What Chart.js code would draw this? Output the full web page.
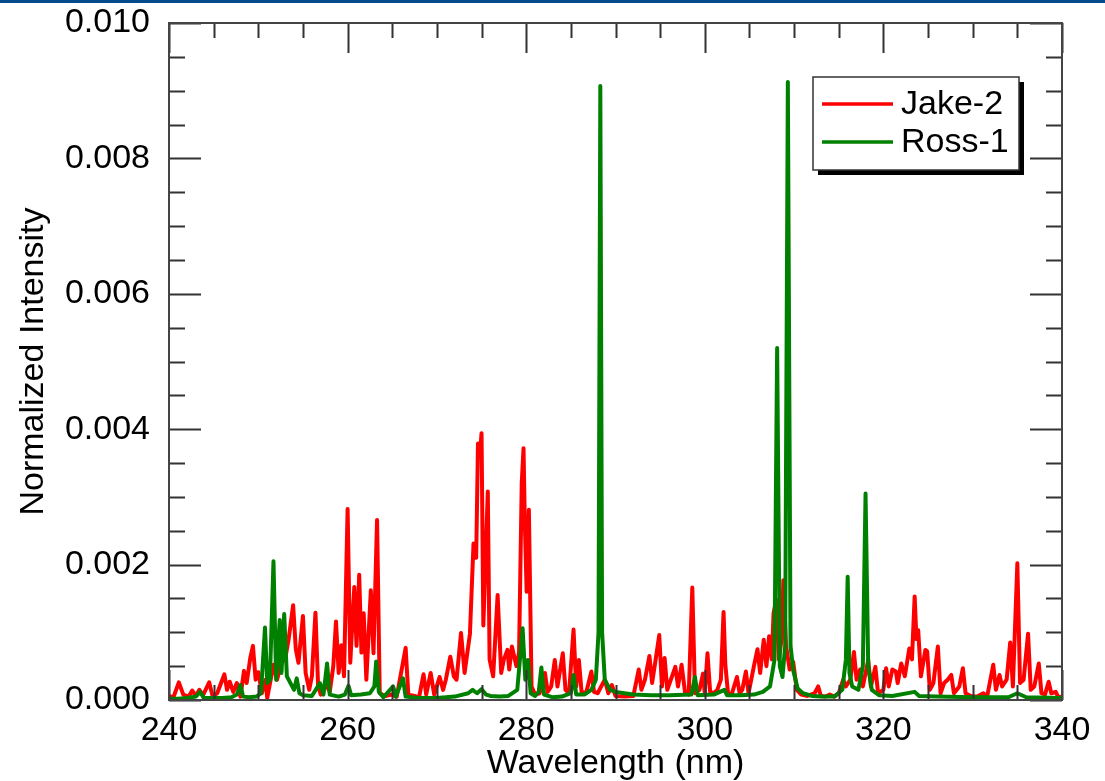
<!DOCTYPE html>
<html>
<head>
<meta charset="utf-8">
<title>Normalized Intensity</title>
<script src="https://cdn.jsdelivr.net/npm/chart.js@4"></script>
<style>
  html, body { margin: 0; padding: 0; background: #fff; }
  #wrap { position: relative; width: 1105px; height: 781px; }
  #topbar { position: absolute; left: 0; top: 0; width: 1105px; height: 3px; background: #034b8c; }
</style>
</head>
<body>
<div id="wrap">
  <canvas id="grafico" width="1105" height="781"></canvas>
  <div id="topbar"></div>
</div>
<script>
  // Jake-2 spectrum (wavelength in nm, normalized intensity)
  const jakeWavelength = [
    240.0, 240.5, 241.1, 241.6, 242.2, 242.6, 243.0, 243.4, 243.8, 244.5,
    244.9, 245.4, 246.2, 246.5, 246.8, 247.2, 247.6, 248.0, 248.4, 248.7,
    249.1, 249.4, 249.7, 250.0, 250.4, 250.8, 251.0, 251.7, 252.1, 252.6,
    253.0, 253.4, 253.9, 254.2, 254.5, 255.0, 255.3, 255.7, 256.0, 256.4,
    256.7, 257.0, 257.5, 258.0, 258.4, 258.7, 259.0, 259.3, 259.6, 260.0,
    260.3, 260.75, 261.0, 261.3, 261.55, 261.8, 262.1, 262.6, 262.9, 263.3,
    263.6, 264.2, 265.0, 265.5, 266.5, 266.8, 267.5, 268.0, 268.5, 268.8,
    269.3, 269.7, 270.3, 270.7, 271.0, 271.5, 271.9, 272.2, 272.7, 273.1,
    273.7, 274.1, 274.4, 274.6, 274.8, 275.0, 275.2, 275.7, 275.9, 276.3,
    276.8, 277.2, 277.5, 277.9, 278.1, 278.4, 278.9, 279.2, 279.5, 279.7,
    279.85, 280.05, 280.3, 280.6, 281.0, 281.5, 282.1, 282.4, 282.8, 283.2,
    283.5, 284.1, 284.4, 284.8, 285.3, 285.6, 285.9, 286.2, 286.7, 287.3,
    287.6, 288.0, 288.8, 289.2, 289.6, 290.0, 291.0, 292.0, 292.6, 292.9,
    293.3, 293.8, 294.1, 294.5, 294.9, 295.2, 295.5, 295.8, 296.2, 296.7,
    297.0, 297.4, 297.8, 298.2, 298.6, 298.9, 299.4, 299.8, 300.0, 300.3,
    300.6, 301.0, 301.4, 301.8, 302.1, 302.3, 302.6, 303.0, 303.6, 303.9,
    304.2, 304.6, 304.9, 305.5, 305.9, 306.2, 306.6, 306.9, 307.2, 307.5,
    307.7, 308.0, 308.3, 308.6, 308.8, 309.1, 309.5, 309.9, 310.3, 310.8,
    311.5, 312.3, 312.7, 313.0, 313.5, 314.0, 314.5, 315.0, 315.5, 315.8,
    316.3, 316.7, 317.0, 317.4, 317.7, 318.3, 318.6, 319.1, 319.4, 320.0,
    320.3, 320.6, 321.0, 321.4, 321.6, 322.0, 322.4, 322.9, 323.2, 323.5,
    323.7, 323.9, 324.2, 324.7, 324.9, 325.2, 325.6, 326.1, 326.4, 326.8,
    327.2, 327.6, 327.9, 328.5, 328.9, 329.2, 329.8, 330.5, 331.2, 331.6,
    332.3, 332.6, 333.0, 333.3, 333.8, 334.2, 334.5, 335.0, 335.3, 335.7,
    336.2, 336.5, 336.9, 337.4, 337.7, 338.1, 338.5, 338.8, 339.3, 339.6,
    340.0
  ];
  const jakeIntensity = [
    0.00006, 0.00004, 0.00026, 0.00008, 0.00005, 0.00014, 0.00006, 0.00015, 0.00007, 0.00026,
    0.00005, 0.00010, 0.00038, 0.00015, 0.00027, 0.00012, 0.00025, 0.00005, 0.00043, 0.00025,
    0.00062, 0.00080, 0.00030, 0.00041, 0.00010, 0.00030, 0.00003, 0.00052, 0.00030, 0.00055,
    0.00060, 0.00090, 0.00140, 0.00075, 0.00055, 0.00124, 0.00040, 0.00015, 0.00035, 0.00129,
    0.00020, 0.00008, 0.00025, 0.00012, 0.00050, 0.00116, 0.00040, 0.00081, 0.00035, 0.00282,
    0.00055, 0.00167, 0.00080, 0.00185, 0.00070, 0.00128, 0.00030, 0.00162, 0.00069, 0.00266,
    0.00010, 0.00006, 0.00008, 0.00005, 0.00077, 0.00008, 0.00006, 0.00004, 0.00038, 0.00008,
    0.00040, 0.00008, 0.00034, 0.00015, 0.00030, 0.00064, 0.00035, 0.00030, 0.00099, 0.00040,
    0.00098, 0.00231, 0.00210, 0.00379, 0.00360, 0.00394, 0.00110, 0.00308, 0.00060, 0.00035,
    0.00155, 0.00040, 0.00060, 0.00074, 0.00045, 0.00079, 0.00050, 0.00070, 0.00320, 0.00372,
    0.00260, 0.00160, 0.00281, 0.00020, 0.00008, 0.00010, 0.00040, 0.00012, 0.00020, 0.00059,
    0.00020, 0.00069, 0.00015, 0.00010, 0.00104, 0.00020, 0.00059, 0.00012, 0.00010, 0.00042,
    0.00012, 0.00010, 0.00030, 0.00010, 0.00022, 0.00006, 0.00005, 0.00006, 0.00045, 0.00015,
    0.00030, 0.00065, 0.00025, 0.00060, 0.00096, 0.00020, 0.00062, 0.00015, 0.00030, 0.00049,
    0.00020, 0.00052, 0.00010, 0.00008, 0.00166, 0.00010, 0.00015, 0.00039, 0.00010, 0.00069,
    0.00012, 0.00010, 0.00015, 0.00030, 0.00130, 0.00052, 0.00010, 0.00008, 0.00034, 0.00010,
    0.00015, 0.00042, 0.00010, 0.00050, 0.00075, 0.00040, 0.00089, 0.00050, 0.00094, 0.00060,
    0.00128, 0.00148, 0.00060, 0.00090, 0.00177, 0.00080, 0.00045, 0.00056, 0.00015, 0.00008,
    0.00006, 0.00010, 0.00020, 0.00006, 0.00005, 0.00008, 0.00005, 0.00010, 0.00030, 0.00020,
    0.00030, 0.00071, 0.00030, 0.00045, 0.00020, 0.00059, 0.00020, 0.00049, 0.00010, 0.00015,
    0.00047, 0.00020, 0.00045, 0.00042, 0.00025, 0.00054, 0.00035, 0.00076, 0.00060, 0.00153,
    0.00090, 0.00103, 0.00035, 0.00074, 0.00072, 0.00015, 0.00025, 0.00079, 0.00010, 0.00025,
    0.00030, 0.00037, 0.00010, 0.00020, 0.00047, 0.00010, 0.00006, 0.00005, 0.00010, 0.00004,
    0.00052, 0.00015, 0.00037, 0.00020, 0.00030, 0.00085, 0.00020, 0.00202, 0.00025, 0.00030,
    0.00098, 0.00015, 0.00020, 0.00054, 0.00010, 0.00008, 0.00027, 0.00010, 0.00012, 0.00004,
    0.00005
  ];

  // Ross-1 spectrum
  const rossWavelength = [
    240.0, 241.0, 242.0, 243.0, 243.5, 243.9, 245.0, 246.0, 247.0, 247.6,
    248.0, 248.3, 249.0, 249.8, 250.3, 250.75, 251.0, 251.3, 251.7, 252.0,
    252.4, 252.6, 252.9, 253.2, 253.6, 254.0, 254.3, 254.6, 255.0, 256.0,
    256.9, 257.3, 257.7, 258.0, 259.0, 259.7, 260.1, 260.4, 261.5, 262.5,
    263.0, 263.2, 263.5, 264.0, 265.1, 265.4, 266.2, 266.5, 268.0, 270.0,
    272.0, 273.5, 274.0, 274.5, 275.0, 275.5, 276.0, 277.0, 278.0, 279.0,
    279.6, 279.9, 280.2, 280.5, 281.0, 281.4, 281.7, 282.0, 283.0, 284.0,
    285.0, 285.3, 285.6, 286.5, 287.3, 287.8, 288.1, 288.3, 288.5, 288.8,
    289.4, 290.0, 291.0, 292.0, 294.0, 296.0, 298.5, 298.9, 299.2, 301.0,
    302.2, 302.5, 304.0, 305.5, 306.5, 307.3, 307.8, 308.1, 308.4, 308.7,
    309.0, 309.3, 309.6, 309.9, 310.4, 311.0, 312.0, 313.0, 314.5, 315.4,
    315.8, 316.0, 316.2, 316.5, 317.2, 317.7, 318.0, 318.3, 318.7, 319.5,
    321.0, 323.5, 324.0, 326.0, 330.0, 334.0, 335.0, 336.0, 340.0
  ];
  const rossIntensity = [
    0.00002, 0.00002, 0.00003, 0.00005, 0.00012, 0.00003, 0.00003, 0.00003, 0.00004, 0.00008,
    0.00022, 0.00005, 0.00004, 0.00005, 0.00010, 0.00107, 0.00025, 0.00030, 0.00205, 0.00030,
    0.00118, 0.00040, 0.00127, 0.00035, 0.00025, 0.00015, 0.00032, 0.00010, 0.00007, 0.00006,
    0.00025, 0.00008, 0.00054, 0.00008, 0.00005, 0.00008, 0.00021, 0.00007, 0.00008, 0.00010,
    0.00020, 0.00057, 0.00012, 0.00004, 0.00020, 0.00005, 0.00032, 0.00005, 0.00003, 0.00003,
    0.00005, 0.00010, 0.00015, 0.00010, 0.00016, 0.00008, 0.00006, 0.00005, 0.00006, 0.00015,
    0.00106, 0.00030, 0.00059, 0.00010, 0.00006, 0.00012, 0.00048, 0.00008, 0.00004, 0.00005,
    0.00010, 0.00037, 0.00008, 0.00008, 0.00015, 0.00030, 0.00100, 0.00907, 0.00100, 0.00030,
    0.00015, 0.00012, 0.00010, 0.00008, 0.00007, 0.00007, 0.00008, 0.00034, 0.00007, 0.00008,
    0.00015, 0.00007, 0.00007, 0.00008, 0.00012, 0.00020, 0.00059, 0.00520, 0.00050, 0.00034,
    0.00080, 0.00913, 0.00080, 0.00044, 0.00017, 0.00010, 0.00006, 0.00005, 0.00005, 0.00015,
    0.00060, 0.00182, 0.00040, 0.00020, 0.00015, 0.00050, 0.00305, 0.00050, 0.00015, 0.00007,
    0.00006, 0.00012, 0.00006, 0.00005, 0.00004, 0.00004, 0.00010, 0.00004, 0.00003
  ];

  const xRange = [240, 340];
  const yRange = [0, 0.010];
  const seriesLabels = ['Jake-2', 'Ross-1'];
  const seriesColors = ['#ff0000', '#008000'];

  const FONT = { family: "'Liberation Sans', Arial, sans-serif", size: 34 };

  function pares(xs, ys) {
    return xs.map((x, k) => ({ x: x, y: ys[k] }));
  }

  // inward tick marks and the box round the plot
  const marcas = {
    id: 'marcas',
    afterDatasetsDraw(chart) {
      const { ctx, chartArea: a, scales } = chart;
      const sx = scales.x, sy = scales.y;
      ctx.save();
      ctx.strokeStyle = '#333';
      ctx.lineWidth = 2;
      ctx.beginPath();
      for (let v = xRange[0]; v <= xRange[1]; v += 5) {
        const px = Math.round(sx.getPixelForValue(v)) + 0.5;
        const len = (v - xRange[0]) % 20 === 0 ? 30 : 15;
        ctx.moveTo(px, a.bottom); ctx.lineTo(px, a.bottom - len);
        ctx.moveTo(px, a.top); ctx.lineTo(px, a.top + len);
      }
      for (let k = 0; k <= 20; k++) {
        const py = Math.round(sy.getPixelForValue(k * 0.0005)) + 0.5;
        const len = k % 4 === 0 ? 32 : 16;
        ctx.moveTo(a.left, py); ctx.lineTo(a.left + len, py);
        ctx.moveTo(a.right, py); ctx.lineTo(a.right - len, py);
      }
      ctx.stroke();
      ctx.strokeStyle = '#444';
      ctx.strokeRect(a.left, a.top, a.right - a.left, a.bottom - a.top);
      ctx.restore();
    }
  };

  // legend box with a drop shadow, upper right
  const legenda = {
    id: 'legenda',
    afterDraw(chart) {
      const ctx = chart.ctx;
      const bx = 813, by = 77, bw = 206, bh = 93;
      ctx.save();
      ctx.fillStyle = '#000';
      ctx.fillRect(bx + 5, by + 5, bw, bh);
      ctx.fillStyle = '#fff';
      ctx.fillRect(bx, by, bw, bh);
      ctx.strokeStyle = '#333';
      ctx.lineWidth = 1.5;
      ctx.strokeRect(bx, by, bw, bh);
      ctx.font = FONT.size + 'px ' + FONT.family;
      ctx.textBaseline = 'middle';
      ctx.fillStyle = '#000';
      chart.data.datasets.forEach((ds, k) => {
        const ly = by + 27 + k * 38;
        ctx.strokeStyle = ds.borderColor;
        ctx.lineWidth = 3.5;
        ctx.beginPath();
        ctx.moveTo(bx + 9, ly); ctx.lineTo(bx + 80, ly);
        ctx.stroke();
        ctx.fillText(ds.label, bx + 88, ly + 1);
      });
      ctx.restore();
    }
  };

  new Chart(document.getElementById('grafico'), {
    type: 'line',
    data: {
      datasets: [
        {
          label: seriesLabels[0],
          data: pares(jakeWavelength, jakeIntensity),
          borderColor: seriesColors[0],
          borderWidth: 4,
          order: 1
        },
        {
          label: seriesLabels[1],
          data: pares(rossWavelength, rossIntensity),
          borderColor: seriesColors[1],
          borderWidth: 4,
          order: 0
        }
      ]
    },
    options: {
      responsive: false,
      animation: false,
      parsing: false,
      elements: {
        point: { radius: 0 },
        line: { tension: 0, borderJoinStyle: 'round', fill: false }
      },
      layout: { padding: { left: 0, right: 43, top: 23, bottom: 0 } },
      plugins: {
        legend: { display: false },
        tooltip: { enabled: false }
      },
      scales: {
        x: {
          type: 'linear',
          min: xRange[0],
          max: xRange[1],
          afterFit: s => { s.height = 81; s.paddingLeft = 0; s.paddingRight = 0; },
          grid: { display: false, drawTicks: false },
          border: { display: false },
          ticks: { stepSize: 20, padding: 10, color: '#000', font: FONT, maxRotation: 0 },
          title: { display: true, text: 'Wavelength (nm)', color: '#000', font: FONT, padding: { top: 0, bottom: -3 } }
        },
        y: {
          min: yRange[0],
          max: yRange[1],
          afterFit: s => { s.width = 169; s.paddingTop = 0; s.paddingBottom = 0; },
          grid: { display: false, drawTicks: false },
          border: { display: false },
          ticks: { stepSize: 0.002, padding: 19, color: '#000', font: FONT, callback: v => v.toFixed(3) },
          title: { display: true, text: 'Normalized Intensity', color: '#000', font: FONT, padding: { top: 13, bottom: 0 } }
        }
      }
    },
    plugins: [marcas, legenda]
  });
</script>
</body>
</html>
